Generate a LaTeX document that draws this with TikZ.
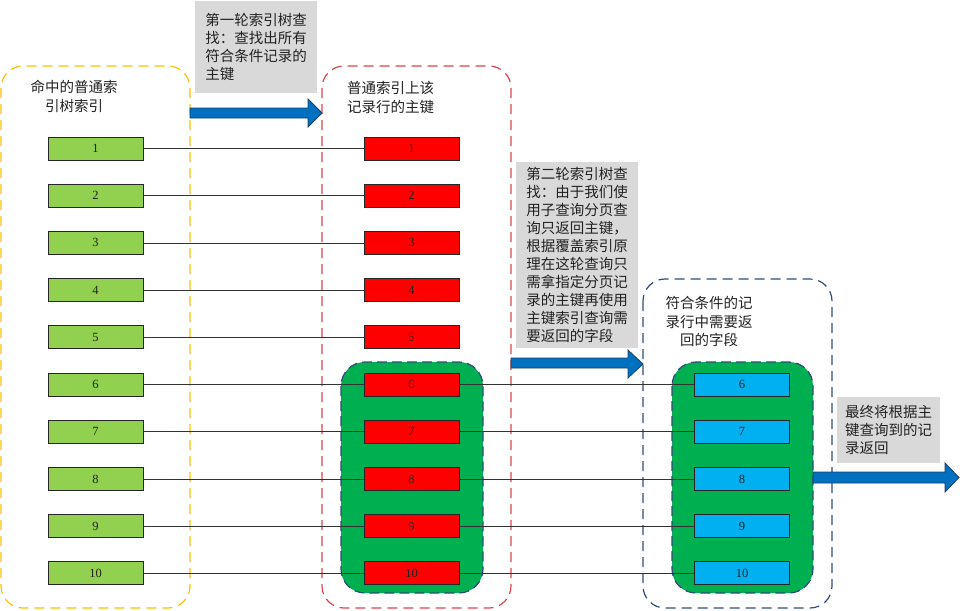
\documentclass[tikz,border=0pt]{standalone}
\usepackage{fontspec}
\setmainfont{Liberation Serif}
\newfontfamily\cjk{Noto Sans CJK SC}
\definecolor{ygreen}{HTML}{92D050}
\definecolor{rbox}{HTML}{FF0000}
\definecolor{bbox}{HTML}{00B0F0}
\definecolor{biggreen}{HTML}{00B050}
\definecolor{callgray}{HTML}{D9D9D9}
\definecolor{arrblue}{HTML}{0070C0}
\definecolor{arredge}{HTML}{1F3F66}
\definecolor{ydashc}{HTML}{FFC000}
\definecolor{rdashc}{HTML}{D9474A}
\definecolor{bdashc}{HTML}{2F4B7C}
\definecolor{txtc}{HTML}{222222}
\tikzset{
  cont/.style={draw, line width=1.2pt, dash pattern=on 10pt off 6pt, rounded corners=22pt},
  bigg/.style={fill=biggreen, draw=bdashc, line width=1.2pt, dash pattern=on 10pt off 5pt, rounded corners=24pt},
  rowbox/.style={draw=black!85, line width=0.8pt, minimum width=95pt, minimum height=23pt, inner sep=0pt, font=\fontsize{12.5}{14}\selectfont, text=txtc},
  link/.style={draw=black!80, line width=0.8pt},
  callout/.style={fill=callgray, inner sep=0pt, align=left, text=txtc, font=\cjk\fontsize{14.5}{18}\selectfont, anchor=north west},
  lbl/.style={inner sep=0pt, text=txtc, font=\cjk\fontsize{14.5}{18.5}\selectfont},
  blockarrow/.style={fill=arrblue, draw=arredge, line width=0.8pt, line join=miter}
}
\begin{document}
\begin{tikzpicture}[x=1pt,y=-1pt]
\useasboundingbox (0,0) rectangle (960,610);
% containers
\draw[cont, draw=ydashc] (1,66) rectangle (190,608);
\draw[cont, draw=rdashc] (322,66) rectangle (511,608);
\draw[cont, draw=bdashc] (643,279) rectangle (832,608);
% big green groups
\draw[bigg] (341,362) rectangle (483,593);
\draw[bigg] (672,362) rectangle (813,593);
% container labels
\node[lbl, align=center] (l1) at (74,96.5) {命中的普通索\\引树索引};
\node[lbl, align=left] (l2) at (390.5,97.5) {普通索引上该\\记录行的主键};
\node[lbl, align=center] (l3) at (709,321.5) {符合条件的记\\录行中需要返\\回的字段};
% rows
\foreach \i in {1,...,10} {
  \pgfmathsetmacro\yy{148.5+47.2*(\i-1)}
  \node[rowbox, fill=ygreen] (g\i) at (95.5,\yy) {\i};
  \node[rowbox, fill=rbox] (r\i) at (411.5,\yy) {\i};
  \draw[link] (g\i.east) -- (r\i.west);
}
\foreach \i in {6,...,10} {
  \pgfmathsetmacro\yy{148.5+47.2*(\i-1)}
  \node[rowbox, fill=bbox] (b\i) at (742,\yy) {\i};
  \draw[link] (r\i.east) -- (b\i.west);
}
% callouts
\node[callout, minimum width=122pt, minimum height=92pt] (k1) at (195,1)
  {第一轮索引树查\\找：查找出所有\\符合条件记录的\\主键};
\node[callout, minimum width=122pt, minimum height=186pt] (k2) at (516,162)
  {第二轮索引树查\\找：由于我们使\\用子查询分页查\\询只返回主键，\\根据覆盖索引原\\理在这轮查询只\\需拿指定分页记\\录的主键再使用\\主键索引查询需\\要返回的字段};
\node[callout, minimum width=103pt, minimum height=66pt] (k3) at (837,397)
  {最终将根据主\\键查询到的记\\录返回};
% block arrows
\draw[blockarrow] (190,108) -- (308,108) -- (308,99) -- (322,113) -- (308,127) -- (308,118) -- (190,118) -- cycle;
\draw[blockarrow] (511,358) -- (628,358) -- (628,350) -- (643,364) -- (628,378) -- (628,368) -- (511,368) -- cycle;
\draw[blockarrow] (813,472) -- (945,472) -- (945,463) -- (959,477.5) -- (945,492) -- (945,483) -- (813,483) -- cycle;
\end{tikzpicture}
\end{document}
